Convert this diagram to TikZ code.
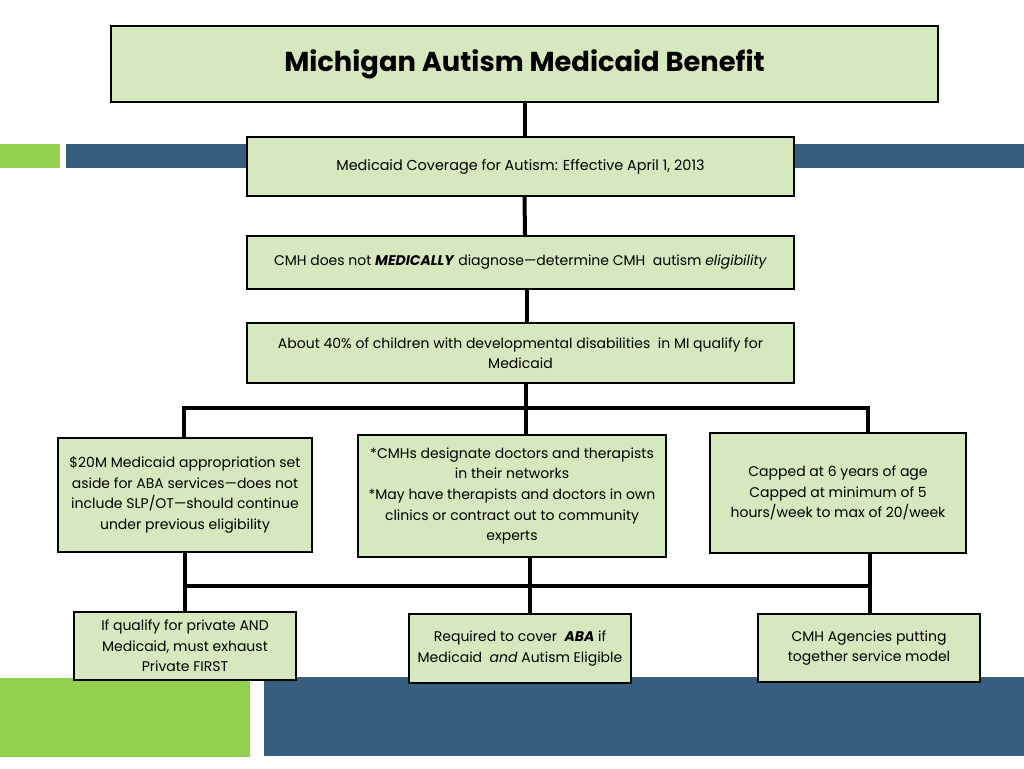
\documentclass[tikz,border=0pt]{standalone}
\usepackage{fontspec}
\setmainfont{Poppins}
\definecolor{boxgreen}{RGB}{214,232,189}
\definecolor{bargreen}{RGB}{146,208,80}
\definecolor{barblue}{RGB}{55,94,127}
\newlength\pxu
\setlength\pxu{0.75pt}
\begin{document}
\begin{tikzpicture}[x=0.75pt,y=-0.75pt,
    cell/.style={draw=black,line width=1.5pt,fill=boxgreen,align=center,inner sep=2pt,
        font=\fontsize{10.5}{15.4}\selectfont},
    link/.style={line width=3pt}]
    \useasboundingbox (0,0) rectangle (1024,768);
    % side bars
    \fill[bargreen] (0,144) rectangle (60,168);
    \fill[barblue] (66,144) rectangle (1024,168);
    \fill[bargreen] (0,678) rectangle (250,757);
    \fill[barblue] (264,677) rectangle (1024,756);

    \node[cell,minimum width=827\pxu,minimum height=76\pxu,font=\fontsize{20.5}{24}\selectfont\bfseries]
        (title) at (524.5,64) {Michigan Autism Medicaid Benefit};
    \node[cell,minimum width=547\pxu,minimum height=59\pxu,font=\fontsize{10.8}{15.4}\selectfont] (cover) at (520.5,166.5)
        {Medicaid Coverage for Autism: Effective April 1, 2013};
    \node[cell,minimum width=547\pxu,minimum height=53\pxu] (diag) at (520.5,262.5)
        {CMH does not \textbf{\textit{MEDICALLY}} diagnose---determine CMH\ \ autism \textit{eligibility}};
    \node[cell,minimum width=547\pxu,minimum height=60\pxu] (share) at (520.5,353)
        {About 40\% of children with developmental disabilities\ \ in MI qualify for\\ Medicaid};

    \node[cell,minimum width=254\pxu,minimum height=114\pxu] (fund) at (185,495)
        {\$20M Medicaid appropriation set\\ aside for ABA services---does not\\ include SLP/OT---should continue\\ under previous eligibility};
    \node[cell,minimum width=308\pxu,minimum height=122\pxu] (docs) at (512,496)
        {*CMHs designate doctors and therapists\\ in their networks\\ *May have therapists and doctors in own\\ clinics or contract out to community\\ experts};
    \node[cell,minimum width=256\pxu,minimum height=120\pxu] (caps) at (838,493)
        {Capped at 6 years of age\\ Capped at minimum of 5\\ hours/week to max of 20/week};

    \node[cell,minimum width=222\pxu,minimum height=68\pxu] (private) at (185,646)
        {If qualify for private AND\\ Medicaid, must exhaust\\ Private FIRST};
    \node[cell,minimum width=222\pxu,minimum height=69\pxu] (aba) at (520,648.5)
        {Required to cover \ \textbf{\textit{ABA}} if\\ Medicaid\ \ \textit{and} Autism Eligible};
    \node[cell,minimum width=222\pxu,minimum height=68\pxu] (agency) at (869,648)
        {CMH Agencies putting\\ together service model};

    % connectors
    \coordinate (busL) at (184,408);
    \coordinate (busM) at (526,408);
    \coordinate (busR) at (868,408);
    \coordinate (lowL) at (185,586);
    \coordinate (lowM) at (530,586);
    \coordinate (lowR) at (870,586);
    \draw[link] (title.south) -- (title.south |- cover.north);
    \draw[link] (cover.south) ++(4,0) -- (diag.north -| 525,0);
    \draw[link] (diag.south -| 527,0) -- (share.north -| 527,0);
    \draw[link] (share.south -| busM) -- (docs.north -| busM);
    \draw[link] (fund.north -| busL) |- (busR) -- (caps.north -| busR);
    \draw[link] (fund.south) -- (private.north);
    \draw[link] (docs.south -| lowM) -- (aba.north -| lowM);
    \draw[link] (caps.south -| lowR) -- (agency.north -| lowR);
    \draw[link] (lowL) -- (lowR);
\end{tikzpicture}
\end{document}
